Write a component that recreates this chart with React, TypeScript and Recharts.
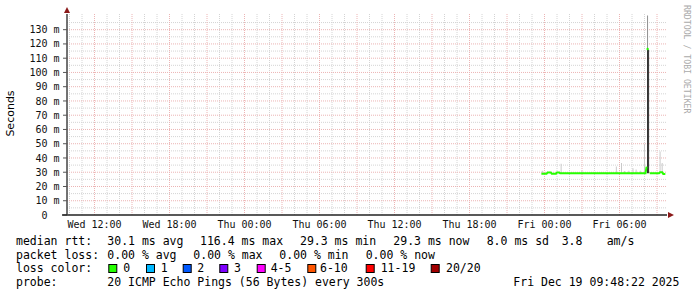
import React from "react";
import { Bar, CartesianGrid, Cell, ComposedChart, Line, XAxis, YAxis } from "recharts";

// time is in hours counted from Wed 00:00
const DAY_NAMES = ["Wed", "Thu", "Fri"];
const X_TICKS = [12, 18, 24, 30, 36, 42, 48, 54];
const Y_TICKS = [0, 10, 20, 30, 40, 50, 60, 70, 80, 90, 100, 110, 120, 130];
const X_DOMAIN = [9.8, 57.8];
const Y_DOMAIN = [0, 141];

// one sample every 300 s, first one Thu 23:45
const START_HOUR = 47.75;
const STEP_HOURS = 5 / 60;

// median rtt in ms, one row per hour
const median: (number | null)[] = [
  29.0, 29.0, 29.0, 29.0, 29.0, 29.0, 29.9, 29.9, 29.9, 29.9, 29.0, 29.0,
  29.0, 29.0, 29.0, 29.9, 29.9, 29.9, 29.3, 29.3, 29.3, 29.3, 29.3, 29.3,
  29.3, 29.3, 29.3, 29.3, 29.3, 29.3, 29.3, 29.3, 29.3, 29.3, 29.3, 29.3,
  29.3, 29.3, 29.3, 29.3, 29.3, 29.3, 29.3, 29.3, 29.3, 29.3, 29.3, 29.3,
  29.3, 29.3, 29.3, 29.3, 29.3, 29.3, 29.3, 29.3, 29.3, 29.3, 29.3, 29.3,
  29.3, 29.3, 29.3, 29.3, 29.3, 29.3, 29.3, 29.3, 29.3, 29.3, 29.3, 29.3,
  29.3, 29.3, 29.3, 29.3, 29.3, 29.3, 29.3, 29.3, 29.3, 29.3, 29.3, 29.3,
  29.3, 29.3, 29.3, 29.3, 29.3, 29.3, 29.3, 29.3, 29.3, 29.3, 29.3, 29.3,
  29.3, 29.3, 29.3, 29.3, 29.3, 34.0, null, null, 29.3, 29.3, 29.3, 29.3,
  29.3, 29.3, 29.3, 29.3, 29.3, 29.3, 30.0, 30.0, 30.0, 28.8, 28.8, 28.8,
];

// the one sample whose median jumped
const peakIndex = [102];
const peakValue = [116.4];

// smoke: sample index, lowest ping, top of the dense part, highest ping (ms)
const smokeIndex = [1, 19, 39, 72, 77, 80, 84, 88, 91, 95, 99, 102, 103, 114, 116];
const smokeLow = [29.0, 29.3, 29.3, 29.3, 29.3, 29.3, 29.3, 29.3, 29.3, 29.3, 29.3, 29.3, 29.3, 30.0, 30.0];
const smokeDense = [0, 0, 0, 0, 0, 0, 0, 0, 0, 0, 0, 116.0, 116.0, 0, 0];
const smokeHigh = [31.0, 36.0, 31.0, 34.0, 36.5, 30.8, 31.0, 32.8, 32.0, 31.0, 50.0, 140.0, 116.0, 44.5, 36.5];

const LOSS_LABELS = ["0", "1", "2", "3", "4-5", "6-10", "11-19", "20/20"];
const LOSS_COLORS = ["#26ff00", "#00b8ff", "#0059ff", "#7e00ff", "#ff00ff", "#ff5500", "#ff0000", "#a10000"];

const data = median.map((m, i) => {
  const k = smokeIndex.indexOf(i);
  const p = peakIndex.indexOf(i);
  let base = 0;
  let dense = 0;
  let light = 0;
  if (k >= 0) {
    base = smokeLow[k];
    const denseTop = smokeDense[k] > 0 ? smokeDense[k] : smokeLow[k];
    dense = denseTop - smokeLow[k];
    light = smokeHigh[k] - denseTop;
  }
  return {
    t: START_HOUR + i * STEP_HOURS,
    median: m,
    peak: p >= 0 ? peakValue[p] : null,
    base,
    dense,
    light,
  };
});

const hourLabel = (h: number) =>
  `${DAY_NAMES[Math.floor(h / 24)]} ${String(h % 24).padStart(2, "0")}:00`;

const minorX: number[] = [];
const majorX: number[] = [];
for (let h = 10; h <= 57; h++) (h % 3 === 0 ? majorX : minorX).push(h);
const minorY = Y_TICKS.map((v) => v + 5).filter((v) => v < Y_DOMAIN[1]);
const majorY = Y_TICKS.filter((v) => v > 0);

const MONO = "'DejaVu Sans Mono', monospace";

const rows: [string, number][][] = [
  [["median rtt:", 16], ["30.1 ms avg", 107.3], ["116.4 ms max", 200], ["29.3 ms min", 300], ["29.3 ms now", 393.3], ["8.0 ms sd", 486.7], ["3.8", 561.7], ["am/s", 606.7]],
  [["packet loss:", 16], ["0.00 % avg", 107.3], ["0.00 % max", 193.3], ["0.00 % min", 279.3], ["0.00 % now", 365.7]],
  [["loss color:", 16]],
  [["probe:", 16], ["20 ICMP Echo Pings (56 Bytes) every 300s", 107.3], ["Fri Dec 19 09:48:22 2025", 513.3]],
];
const rowBase = [245, 258.5, 272, 285.5];
const swatchX = [108.3, 146, 182.7, 219.3, 256.7, 307.3, 365.7, 430.7];
const swatchLabelX = [123.3, 160.7, 197.3, 234, 270.7, 320, 380.7, 446];

export default function App() {
  return (
    <div style={{ position: "absolute", left: 0, top: 0, width: 697, height: 297, background: "#fff" }}>
      <ComposedChart
        width={697}
        height={297}
        data={data}
        margin={{ top: 14, right: 30, bottom: 52, left: 17 }}
      >
        <CartesianGrid
          stroke="#d4d4d4"
          strokeDasharray="1 1"
          horizontalValues={minorY}
          verticalValues={minorX}
        />
        <CartesianGrid
          stroke="#ecb4b4"
          strokeDasharray="1 1"
          horizontalValues={majorY}
          verticalValues={majorX}
        />
        <XAxis
          dataKey="t"
          type="number"
          domain={X_DOMAIN}
          ticks={X_TICKS}
          tickFormatter={hourLabel}
          interval={0}
          height={30}
          tickLine={false}
          tickSize={2}
          tickMargin={3.5}
          axisLine={{ stroke: "#222", strokeWidth: 1.5 }}
          tick={{ fontFamily: MONO, fontSize: 10, fill: "#111" }}
        />
        <YAxis
          type="number"
          domain={Y_DOMAIN}
          ticks={Y_TICKS}
          interval={0}
          width={50}
          tickSize={4}
          tickMargin={3.5}
          tickFormatter={(v: number) => (v === 0 ? "0\u00a0\u00a0" : `${v} m`)}
          tickLine={{ stroke: "#555" }}
          axisLine={{ stroke: "#444", strokeWidth: 1.5 }}
          tick={{ fontFamily: MONO, fontSize: 10, fill: "#111" }}
        />
        <Bar dataKey="base" stackId="smoke" fill="transparent" barSize={1.2} isAnimationActive={false} />
        <Bar dataKey="dense" stackId="smoke" fill="#1e1e1e" barSize={1.2} isAnimationActive={false} />
        <Bar dataKey="light" stackId="smoke" fill="#c6c6c6" barSize={1.2} isAnimationActive={false}>
          {data.map((d, i) => (
            <Cell key={`smoke-${i}`} fill={d.dense > 0 ? "#8a8a8a" : "#c6c6c6"} />
          ))}
        </Bar>
        <Line
          dataKey="median"
          stroke={LOSS_COLORS[0]}
          strokeWidth={2}
          dot={false}
          activeDot={false}
          connectNulls={false}
          isAnimationActive={false}
        />
        <Line
          dataKey="peak"
          stroke="none"
          dot={{ r: 1.2, fill: LOSS_COLORS[0], stroke: "none" }}
          activeDot={false}
          isAnimationActive={false}
        />
      </ComposedChart>
      <svg
        width={697}
        height={297}
        style={{ position: "absolute", left: 0, top: 0, pointerEvents: "none" }}
      >
        <line x1={62} y1={215} x2={67} y2={215} stroke="#222" strokeWidth={1.5} />
        <polygon points="64,13 70,13 67,7" fill="#8b1a1a" />
        <polygon points="668,212 668,218 674,215" fill="#8b1a1a" />
        <text
          transform="translate(14,113.5) rotate(-90)"
          textAnchor="middle"
          fontFamily="'DejaVu Sans', sans-serif"
          fontSize={11}
          fill="#000"
        >
          Seconds
        </text>
        <text
          transform="translate(684,5) rotate(90)"
          fontFamily={MONO}
          fontSize={8.2}
          fill="#aaa"
        >
          RRDTOOL / TOBI OETIKER
        </text>
        {rows.map((row, r) =>
          row.map(([s, x], j) => (
            <text
              key={`r${r}-${j}`}
              x={x}
              y={rowBase[r]}
              fontFamily={MONO}
              fontSize={11.5}
              fill="#000"
              style={{ whiteSpace: "pre" }}
            >
              {s}
            </text>
          ))
        )}
        {LOSS_LABELS.map((lab, i) => (
          <g key={lab}>
            <rect
              x={swatchX[i] + 0.5}
              y={264.5}
              width={8}
              height={8}
              fill={LOSS_COLORS[i]}
              stroke="#000"
              strokeWidth={1}
            />
            <text x={swatchLabelX[i]} y={rowBase[2]} fontFamily={MONO} fontSize={11.5} fill="#000">
              {lab}
            </text>
          </g>
        ))}
      </svg>
    </div>
  );
}
